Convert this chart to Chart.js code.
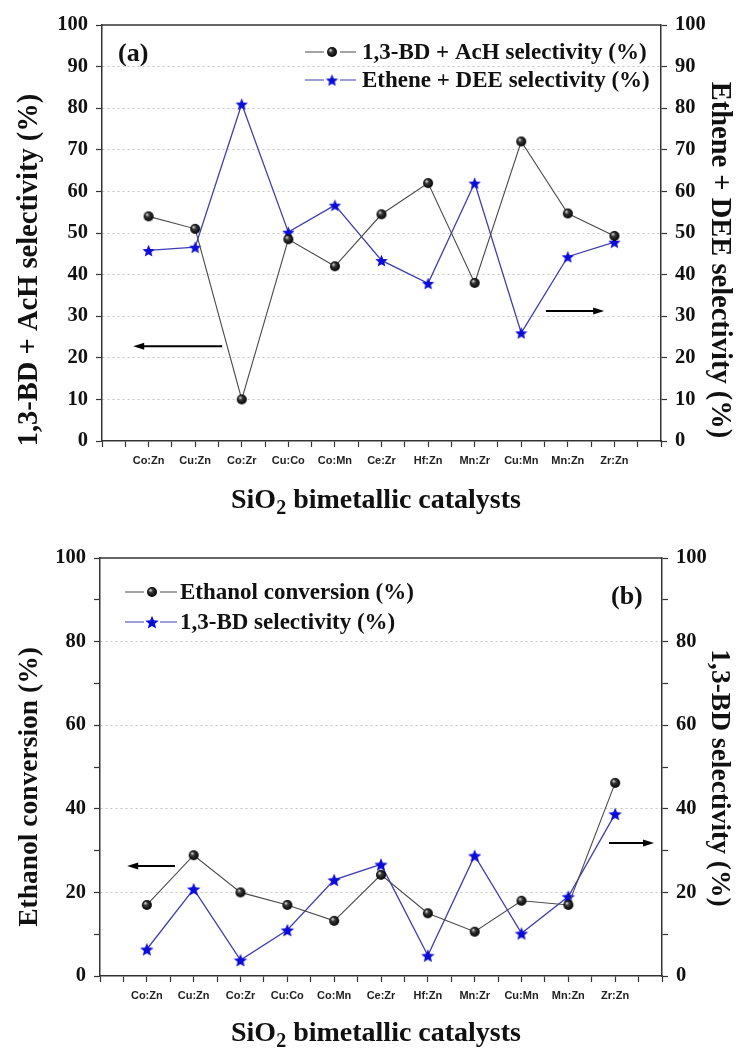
<!DOCTYPE html>
<html>
<head>
<meta charset="utf-8">
<script src="https://cdn.jsdelivr.net/npm/chart.js@4/dist/chart.umd.min.js"></script>
<style>
  body { margin: 0; background: #fff; }
  #wrap { position: relative; width: 748px; height: 1049px; }
  canvas { position: absolute; left: 0; }
</style>
</head>
<body>
<div id="wrap">
  <canvas id="chartA" width="748" height="530" style="top:0"></canvas>
  <canvas id="chartB" width="748" height="519" style="top:530px"></canvas>
</div>
<script>
// catalysts on the x axis
var catalysts = ['Co:Zn', 'Cu:Zn', 'Co:Zr', 'Cu:Co', 'Co:Mn', 'Ce:Zr', 'Hf:Zn', 'Mn:Zr', 'Cu:Mn', 'Mn:Zn', 'Zr:Zn'];

// panel (a)
var bdAcHSel   = [54, 51, 10, 48.5, 42, 54.5, 62, 38, 72, 54.7, 49.3];
var etheneDEE  = [45.8, 46.6, 81, 50.2, 56.7, 43.4, 37.9, 62, 26, 44.3, 47.8];

// panel (b)
var ethanolConv = [17, 28.9, 20, 17, 13.2, 24.2, 15, 10.6, 18, 17, 46.2];
var bdSel       = [6.4, 20.8, 3.8, 11, 23, 26.7, 4.9, 28.8, 10.2, 19, 38.8];

// labelled ticks of the y axes
var ticksA = [0, 10, 20, 30, 40, 50, 60, 70, 80, 90, 100];
var ticksB = [0, 20, 40, 60, 80, 100];

var SERIF = '"Liberation Serif", "Times New Roman", serif';

function toPoints(arr) {
  return arr.map(function(v, i) { return {x: i + 1, y: v}; });
}

// little black ball marker
function ball(r) {
  var c = document.createElement('canvas');
  c.width = c.height = 2 * r + 2;
  var g = c.getContext('2d');
  var m = r + 1;
  var grad = g.createRadialGradient(m - r * 0.35, m - r * 0.4, 0.3, m, m, r);
  grad.addColorStop(0, '#e0e0e0');
  grad.addColorStop(0.35, '#3a3a3a');
  grad.addColorStop(1, '#000');
  g.fillStyle = grad;
  g.beginPath();
  g.arc(m, m, r, 0, Math.PI * 2);
  g.fill();
  return c;
}

// filled 5 point star marker
function star(r, color) {
  var c = document.createElement('canvas');
  c.width = c.height = 2 * r + 2;
  var g = c.getContext('2d');
  var m = r + 1;
  g.fillStyle = color;
  g.beginPath();
  for (var i = 0; i < 10; i++) {
    var rad = i % 2 === 0 ? r : r * 0.45;
    var a = -Math.PI / 2 + i * Math.PI / 5;
    var px = m + rad * Math.cos(a), py = m + 0.8 + rad * Math.sin(a);
    if (i === 0) g.moveTo(px, py); else g.lineTo(px, py);
  }
  g.closePath();
  g.fill();
  return c;
}

var ballA = ball(5), starA = star(6.5, '#0c0cd8');
var ballB = ball(5), starB = star(7, '#0c0cd8');

function drawArrow(ctx, x1, y, x2) {
  var dir = x2 > x1 ? 1 : -1;
  ctx.save();
  ctx.strokeStyle = '#000';
  ctx.fillStyle = '#000';
  ctx.lineWidth = 2;
  ctx.beginPath();
  ctx.moveTo(x1, y);
  ctx.lineTo(x2 - dir * 8, y);
  ctx.stroke();
  ctx.beginPath();
  ctx.moveTo(x2, y);
  ctx.lineTo(x2 - dir * 11, y - 3.5);
  ctx.lineTo(x2 - dir * 11, y + 3.5);
  ctx.closePath();
  ctx.fill();
  ctx.restore();
}

function rotText(ctx, text, x, y, angle) {
  ctx.save();
  ctx.translate(x, y);
  ctx.rotate(angle);
  ctx.textAlign = 'center';
  ctx.textBaseline = 'middle';
  ctx.fillText(text, 0, 0);
  ctx.restore();
}

var decor = {
  id: 'decor',
  afterDraw: function(chart, args, o) {
    var ctx = chart.ctx, a = chart.chartArea;
    var xs = chart.scales.x, ys = chart.scales.y;
    ctx.save();
    // top frame
    ctx.strokeStyle = '#333';
    ctx.lineWidth = 1.5;
    ctx.beginPath();
    ctx.moveTo(a.left, a.top);
    ctx.lineTo(a.right, a.top);
    ctx.stroke();

    // axis titles
    ctx.fillStyle = '#111';
    ctx.font = 'bold ' + o.titleSize + 'px ' + SERIF;
    rotText(ctx, o.leftTitle, 30, o.leftTitleY, -Math.PI / 2);
    rotText(ctx, o.rightTitle, 719, o.rightTitleY, Math.PI / 2);

    // x title with subscript
    var big = 'bold 28px ' + SERIF, small = 'bold 20px ' + SERIF;
    ctx.font = big;
    var w1 = ctx.measureText('SiO').width;
    var w3 = ctx.measureText(' bimetallic catalysts').width;
    ctx.font = small;
    var w2 = ctx.measureText('2').width;
    var sx = 376 - (w1 + w2 + w3) / 2;
    ctx.textAlign = 'left';
    ctx.textBaseline = 'alphabetic';
    ctx.font = big;
    ctx.fillText('SiO', sx, o.xTitleY);
    ctx.font = small;
    ctx.fillText('2', sx + w1, o.xTitleY + 6);
    ctx.font = big;
    ctx.fillText(' bimetallic catalysts', sx + w1 + w2, o.xTitleY);

    // panel label
    ctx.font = 'bold 26px ' + SERIF;
    ctx.textBaseline = 'middle';
    ctx.fillText(o.panel.text, o.panel.x, o.panel.y);

    // legend
    ctx.font = 'bold 23px ' + SERIF;
    o.legend.forEach(function(it) {
      var ds = chart.data.datasets[it.ds];
      ctx.strokeStyle = ds.borderColor;
      ctx.lineWidth = 1.2;
      ctx.beginPath();
      ctx.moveTo(o.legendX[0], it.y);
      ctx.lineTo(o.legendX[1] - 8, it.y);
      ctx.moveTo(o.legendX[1] + 8, it.y);
      ctx.lineTo(o.legendX[2], it.y);
      ctx.stroke();
      var img = ds.pointStyle;
      ctx.drawImage(img, o.legendX[1] - img.width / 2, it.y - img.height / 2);
      ctx.fillStyle = '#111';
      ctx.fillText(ds.label, o.legendX[3], it.y + 1);
    });

    // arrows pointing at the axes
    o.arrows.forEach(function(ar) {
      drawArrow(ctx, xs.getPixelForValue(ar[0]), ys.getPixelForValue(ar[2]), xs.getPixelForValue(ar[1]));
    });
    ctx.restore();
  }
};

function yScale(pos, labelled, step, widthPx, showGrid) {
  return {
    type: 'linear',
    position: pos,
    min: 0,
    max: 100,
    afterFit: function(s) { s.width = widthPx; },
    ticks: {
      stepSize: step,
      maxTicksLimit: 100,
      padding: 8,
      color: '#111',
      font: {family: SERIF, size: 20.5, weight: 'bold'},
      callback: function(v) { return labelled.indexOf(v) >= 0 ? String(v) : ''; }
    },
    grid: {
      drawOnChartArea: showGrid,
      tickLength: 6,
      tickColor: '#333',
      tickWidth: 1.2,
      lineWidth: 1,
      color: function(c) {
        var v = c.tick ? c.tick.value : -1;
        return (labelled.indexOf(v) >= 0 && v > 0 && v < 100) ? '#c4c4c4' : 'rgba(0,0,0,0)';
      }
    },
    border: {color: '#333', width: 1.5, dash: [2, 3]}
  };
}

function makeChart(id, cfg) {
  return new Chart(document.getElementById(id), {
    type: 'line',
    data: {
      datasets: [{
        label: cfg.labels[0],
        data: toPoints(cfg.left),
        yAxisID: 'y',
        borderColor: '#4a4a4a',
        borderWidth: 1.1,
        pointStyle: cfg.markers[0],
        tension: 0
      }, {
        label: cfg.labels[1],
        data: toPoints(cfg.right),
        yAxisID: 'y1',
        borderColor: '#3f3fb4',
        borderWidth: 1.3,
        pointStyle: cfg.markers[1],
        tension: 0
      }]
    },
    options: {
      responsive: false,
      animation: false,
      devicePixelRatio: 1,
      layout: {padding: {top: cfg.top, left: 0, right: 0, bottom: 0}},
      plugins: {
        legend: {display: false},
        tooltip: {enabled: false},
        decor: cfg.decor
      },
      scales: {
        x: {
          type: 'linear',
          min: 0,
          max: 12,
          afterFit: function(s) { s.height = cfg.xHeight; },
          ticks: {
            stepSize: 0.5,
            maxTicksLimit: 100,
            autoSkip: false,
            maxRotation: 0,
            padding: 7,
            color: '#222',
            font: {family: '"Liberation Sans", Arial, sans-serif', size: 11, weight: 'bold'},
            callback: function(v) {
              return (Number.isInteger(v) && v >= 1 && v <= catalysts.length) ? catalysts[v - 1] : '';
            }
          },
          grid: {drawOnChartArea: false, tickLength: 6, tickColor: '#333', tickWidth: 1.2},
          border: {color: '#333', width: 1.5}
        },
        y: yScale('left', cfg.ticks, cfg.step, cfg.leftW, true),
        y1: yScale('right', cfg.ticks, cfg.step, cfg.rightW, false)
      }
    },
    plugins: [decor]
  });
}

makeChart('chartA', {
  labels: ['1,3-BD + AcH selectivity (%)', 'Ethene + DEE selectivity (%)'],
  left: bdAcHSel,
  right: etheneDEE,
  markers: [ballA, starA],
  ticks: ticksA,
  step: 5,
  top: 25,
  xHeight: 89,
  leftW: 102,
  rightW: 87,
  decor: {
    leftTitle: '1,3-BD + AcH selectivity (%)',
    rightTitle: 'Ethene + DEE selectivity (%)',
    titleSize: 28.5,
    leftTitleY: 270,
    rightTitleY: 260,
    xTitleY: 508,
    panel: {text: '(a)', x: 118, y: 54},
    legend: [{ds: 0, y: 52}, {ds: 1, y: 80}],
    legendX: [305, 332, 356, 362],
    arrows: [[2.58, 0.67, 22.8], [9.53, 10.78, 31.25]]
  }
});

makeChart('chartB', {
  labels: ['Ethanol conversion (%)', '1,3-BD selectivity (%)'],
  left: ethanolConv,
  right: bdSel,
  markers: [ballB, starB],
  ticks: ticksB,
  step: 10,
  top: 28,
  xHeight: 73,
  leftW: 100,
  rightW: 86,
  decor: {
    leftTitle: 'Ethanol conversion (%)',
    rightTitle: '1,3-BD selectivity (%)',
    titleSize: 27.5,
    leftTitleY: 257,
    rightTitleY: 248,
    xTitleY: 511,
    panel: {text: '(b)', x: 611, y: 67},
    legend: [{ds: 0, y: 62}, {ds: 1, y: 92}],
    legendX: [125, 152, 177, 180],
    arrows: [[1.6, 0.58, 26.3], [10.87, 11.83, 31.8]]
  }
});
</script>
</body>
</html>
